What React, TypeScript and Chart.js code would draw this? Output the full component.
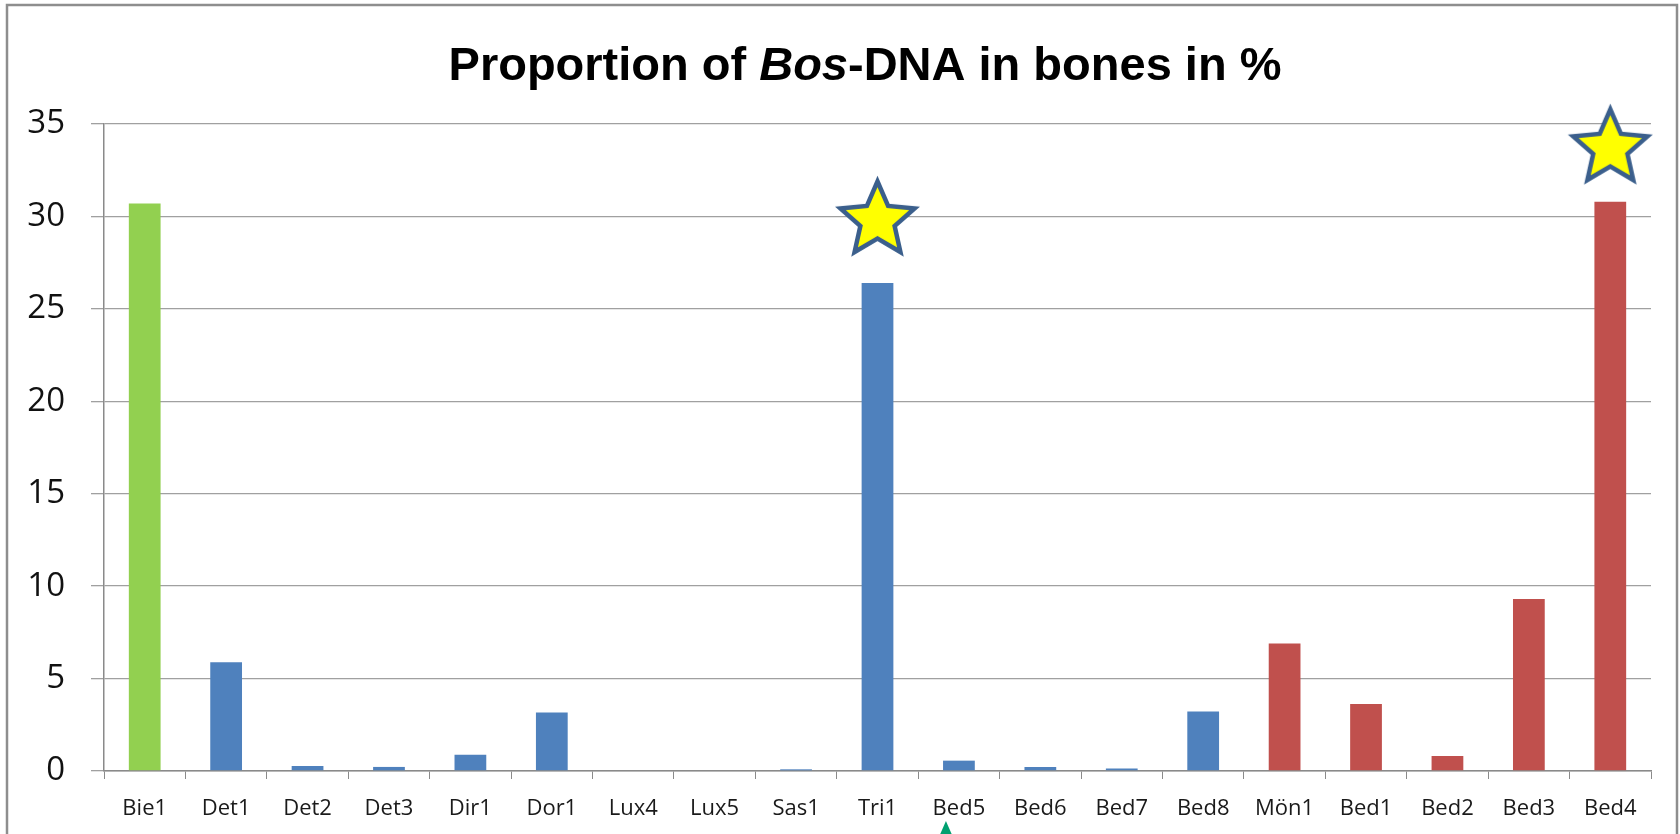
import { useEffect, useRef } from 'react';
import { Chart, registerables } from 'chart.js';

Chart.register(...registerables);

// ---- data ----
const categories = ['Bie1', 'Det1', 'Det2', 'Det3', 'Dir1', 'Dor1', 'Lux4', 'Lux5', 'Sas1', 'Tri1', 'Bed5', 'Bed6', 'Bed7', 'Bed8', 'Mön1', 'Bed1', 'Bed2', 'Bed3', 'Bed4'];
const bosDnaPercent = [30.7, 5.88, 0.27, 0.22, 0.88, 3.17, 0, 0, 0.09, 26.4, 0.56, 0.22, 0.14, 3.22, 6.9, 3.63, 0.81, 9.3, 30.8];
const groups = ['green', 'blue', 'blue', 'blue', 'blue', 'blue', 'blue', 'blue', 'blue', 'blue', 'blue', 'blue', 'blue', 'blue', 'red', 'red', 'red', 'red', 'red'];
const yMin = 0;
const yMax = 35;
const yStep = 5;
const starCategories = ['Tri1', 'Bed4'];
const starValues = [30.0, 33.9];
const arrowCategories = ['Bed5'];
const titleParts = [
  { text: 'Proportion of ', italic: false },
  { text: 'Bos', italic: true },
  { text: '-DNA in bones in %', italic: false },
];

// ---- styles ----
const groupColors: Record<string, string> = { green: '#92D050', blue: '#4F81BD', red: '#C0504D' };
const gridColor = '#A0A0A0';
const axisColor = '#8A8A8A';

function makeStar(): HTMLCanvasElement {
  const R = 39;
  const r = 18;
  const lw = 4.5;
  const size = Math.ceil(2 * (R + lw)) + 2;
  const c = document.createElement('canvas');
  c.width = size;
  c.height = size;
  const ctx = c.getContext('2d')!;
  const cx = size / 2;
  const cy = size / 2 + 4;
  ctx.beginPath();
  for (let i = 0; i < 10; i++) {
    const rad = i % 2 === 0 ? R : r;
    const a = -Math.PI / 2 + (i * Math.PI) / 5;
    const px = cx + rad * Math.cos(a);
    const py = cy + rad * Math.sin(a);
    if (i === 0) ctx.moveTo(px, py);
    else ctx.lineTo(px, py);
  }
  ctx.closePath();
  ctx.fillStyle = '#FFFF00';
  ctx.fill();
  ctx.lineJoin = 'miter';
  ctx.lineWidth = lw;
  ctx.strokeStyle = '#3B5F8C';
  ctx.stroke();
  return c;
}

const decorPlugin = {
  id: 'decor',
  beforeDraw(chart: any) {
    const ctx = chart.ctx;
    ctx.save();
    ctx.fillStyle = '#FFFFFF';
    ctx.fillRect(0, 0, chart.width, chart.height);
    ctx.restore();
  },
  afterDraw(chart: any) {
    const ctx = chart.ctx;
    ctx.save();
    // outer frame
    ctx.strokeStyle = '#8E8E8E';
    ctx.lineWidth = 2.5;
    ctx.strokeRect(7, 5, 1670, 900);
    // title
    ctx.fillStyle = '#000000';
    ctx.textBaseline = 'alphabetic';
    ctx.textAlign = 'left';
    const fontFor = (it: boolean) => `${it ? 'italic ' : ''}bold 47px "Liberation Sans", Arial, sans-serif`;
    let total = 0;
    for (const p of titleParts) {
      ctx.font = fontFor(p.italic);
      total += ctx.measureText(p.text).width;
    }
    let x = 865 - total / 2;
    for (const p of titleParts) {
      ctx.font = fontFor(p.italic);
      ctx.fillText(p.text, x, 80);
      x += ctx.measureText(p.text).width;
    }
    // arrow(s) under categories
    const xs = chart.scales.x;
    ctx.fillStyle = '#00A070';
    for (const cat of arrowCategories) {
      const idx = categories.indexOf(cat);
      if (idx < 0) continue;
      const ax = xs.getPixelForValue(idx) - 13;
      const tip = 821;
      ctx.beginPath();
      ctx.moveTo(ax, tip);
      ctx.lineTo(ax - 7, tip + 16);
      ctx.lineTo(ax + 7, tip + 16);
      ctx.closePath();
      ctx.fill();
    }
    ctx.restore();
  },
};

export default function App() {
  const ref = useRef<HTMLCanvasElement | null>(null);

  useEffect(() => {
    document.body.style.margin = '0';
    if (!ref.current) return;
    const star = makeStar();
    const starData = categories.map((c) => {
      const i = starCategories.indexOf(c);
      return i >= 0 ? starValues[i] : null;
    });
    const chart = new Chart(ref.current, {
      type: 'bar',
      data: {
        labels: categories,
        datasets: [
          {
            type: 'line',
            label: 'stars',
            data: starData,
            showLine: false,
            pointStyle: star as any,
            pointRadius: 20,
            clip: false,
            order: 0,
          } as any,
          {
            type: 'bar',
            label: 'Bos-DNA %',
            data: bosDnaPercent,
            backgroundColor: groups.map((g) => groupColors[g]),
            borderWidth: 0,
            barPercentage: 0.39,
            categoryPercentage: 1,
            order: 1,
          },
        ],
      },
      options: {
        responsive: false,
        animation: false,
        layout: { padding: { left: 27, right: 29, top: 124, bottom: 12 } },
        plugins: {
          legend: { display: false },
          tooltip: { enabled: false },
          title: { display: false },
        },
        scales: {
          x: {
            offset: true,
            afterFit: (scale: any) => {
              scale.height = 51;
            },
            grid: {
              offset: true,
              drawOnChartArea: false,
              drawTicks: true,
              tickLength: 8,
              color: axisColor,
            },
            border: { display: true, color: axisColor, width: 1.5 },
            ticks: {
              color: '#1A1A1A',
              padding: 17,
              maxRotation: 0,
              autoSkip: false,
              font: { family: '"Open Sans", sans-serif', size: 22 },
            },
          },
          y: {
            min: yMin,
            max: yMax,
            afterFit: (scale: any) => {
              scale.width = 77;
            },
            grid: {
              color: gridColor,
              lineWidth: 1.3,
              drawTicks: true,
              tickLength: 13,
            },
            border: { display: true, color: axisColor, width: 1.5 },
            ticks: {
              stepSize: yStep,
              color: '#111111',
              padding: 26,
              font: { family: '"Open Sans", sans-serif', size: 33 },
            },
          },
        },
      },
      plugins: [decorPlugin],
    });
    return () => chart.destroy();
  }, []);

  return (
    <div style={{ width: 1680, height: 834 }}>
      <canvas ref={ref} width={1680} height={834} style={{ display: 'block' }} />
    </div>
  );
}
